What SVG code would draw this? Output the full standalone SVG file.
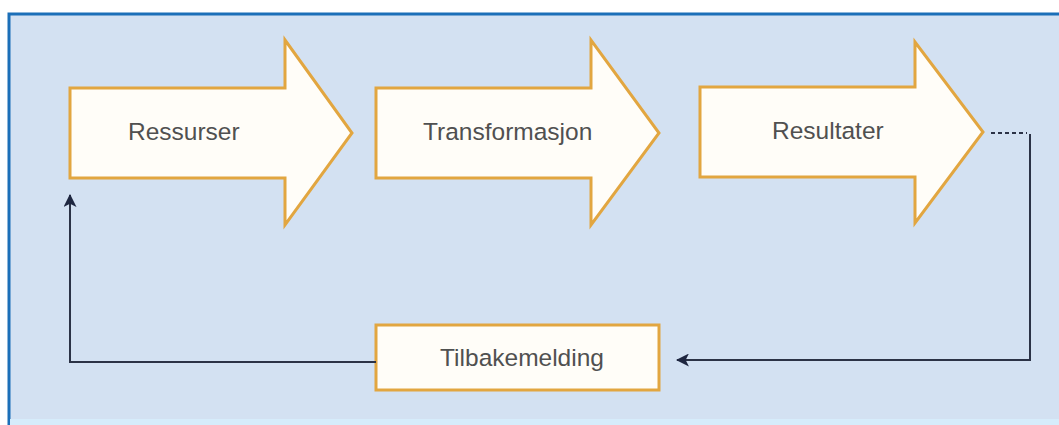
<svg xmlns="http://www.w3.org/2000/svg" width="1059" height="425" viewBox="0 0 1059 425">
<defs>
<style>
.arrow{fill:#fffdf8;stroke:#e2a640;stroke-width:3;stroke-linejoin:miter}
.lbl{font-family:"Liberation Sans",Arial,sans-serif;font-size:24.5px;fill:#505050}
.conn{fill:none;stroke:#2b3246;stroke-width:2}
</style>
<marker id="ah" viewBox="0 0 12 12" refX="11" refY="6" markerWidth="13" markerHeight="13" markerUnits="userSpaceOnUse" orient="auto">
<path d="M0,0 L12,6 L0,12 L3,6 Z" fill="#1e2640"/>
</marker>
</defs>
<rect x="0" y="0" width="1059" height="425" fill="#ffffff"/>
<rect x="8" y="13" width="1051" height="412" fill="#d3e1f2"/>
<path d="M9,425 V14 H1059" fill="none" stroke="#1b6fb8" stroke-width="3"/>
<rect x="10" y="419" width="1049" height="6" fill="#d6ecfb"/>
<g id="ressurser">
<path class="arrow" d="M70,88 H285 V40 L352,133 L285,225 V178 H70 Z"/>
<text class="lbl" x="128" y="140">Ressurser</text>
</g>
<g id="transformasjon">
<path class="arrow" d="M376,88 H591 V40 L659,133 L591,225 V178 H376 Z"/>
<text class="lbl" x="423" y="140">Transformasjon</text>
</g>
<g id="resultater">
<path class="arrow" d="M700,87 H915 V42 L983,132 L915,223 V177 H700 Z"/>
<text class="lbl" x="772" y="139">Resultater</text>
</g>
<g id="tilbakemelding">
<rect class="arrow" x="376" y="325" width="283" height="65"/>
<text class="lbl" x="522" y="366" text-anchor="middle">Tilbakemelding</text>
</g>
<g id="connectors">
<path d="M991,133 H1027" fill="none" stroke="#2b3246" stroke-width="2" stroke-dasharray="4,3"/>
<path class="conn" d="M1030,134 V360 H677" marker-end="url(#ah)"/>
<path class="conn" d="M376,362 H70 V195" marker-end="url(#ah)"/>
</g>
</svg>
